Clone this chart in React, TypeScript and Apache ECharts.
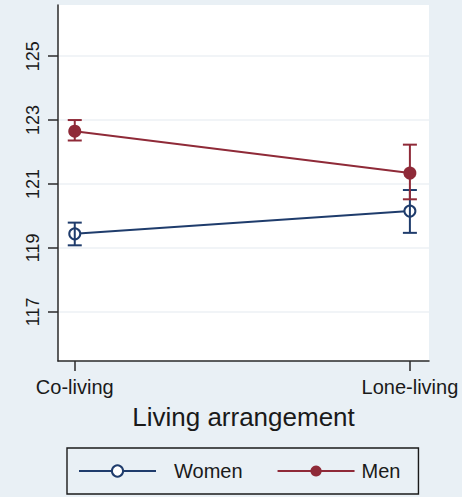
import React, { useEffect, useRef } from "react";
import * as echarts from "echarts";

// Living arrangement categories (positions 0 and 1 on the x axis)
const categories = ["Co-living", "Lone-living"];
const yTicks = [117, 119, 121, 123, 125];

// Predicted means with 95% confidence intervals
const womenMean = [119.44, 120.15];
const womenLow = [119.08, 119.47];
const womenHigh = [119.79, 120.81];

const menMean = [122.65, 121.34];
const menLow = [122.36, 120.52];
const menHigh = [123.0, 122.23];

const WOMEN_COLOR = "#1f3c6c";
const MEN_COLOR = "#8f2a38";
const INK = "#1a1a1a";
const FONT = "Liberation Sans, Arial, sans-serif";

function errorBarSeries(name: string, color: string, low: number[], high: number[]) {
  return {
    name: name + " CI",
    type: "custom",
    z: 4,
    data: low.map((l, i) => [i, l, high[i]]),
    renderItem: (params: any, api: any) => {
      const x = api.value(0);
      const lo = api.coord([x, api.value(1)]);
      const hi = api.coord([x, api.value(2)]);
      const half = 7;
      const style = { stroke: color, lineWidth: 2, fill: "none" };
      return {
        type: "group",
        children: [
          { type: "line", shape: { x1: lo[0], y1: lo[1], x2: hi[0], y2: hi[1] }, style },
          { type: "line", shape: { x1: lo[0] - half, y1: lo[1], x2: lo[0] + half, y2: lo[1] }, style },
          { type: "line", shape: { x1: hi[0] - half, y1: hi[1], x2: hi[0] + half, y2: hi[1] }, style },
        ],
      };
    },
  };
}

export default function App() {
  const ref = useRef<HTMLDivElement>(null);

  useEffect(() => {
    if (!ref.current) return;
    const chart = echarts.init(ref.current, null, { renderer: "svg" });
    chart.setOption({
      animation: false,
      backgroundColor: "#e9f0f5",
      textStyle: { fontFamily: FONT },
      grid: {
        left: 58,
        right: 33,
        top: 5,
        bottom: 136,
        show: true,
        backgroundColor: "#ffffff",
        borderWidth: 0,
      },
      xAxis: {
        type: "value",
        min: -0.05,
        max: 1.057,
        name: "Living arrangement",
        nameLocation: "middle",
        nameGap: 43,
        nameTextStyle: { fontSize: 26, color: INK, fontFamily: FONT, verticalAlign: "top" },
        axisLine: { show: true, onZero: false, lineStyle: { color: "#2a2a2a", width: 1.5 } },
        axisTick: { show: true, length: 10, customValues: [0, 1], lineStyle: { color: "#2a2a2a", width: 1.5 } },
        axisLabel: {
          customValues: [0, 1],
          formatter: (v: number) => categories[Math.round(v)],
          fontSize: 20,
          color: INK,
          margin: 16,
          fontFamily: FONT,
        },
        splitLine: { show: false },
      },
      yAxis: {
        type: "value",
        min: 115.46,
        max: 126.6,
        axisLine: { show: true, onZero: false, lineStyle: { color: "#2a2a2a", width: 1.5 } },
        axisTick: { show: true, length: 10, customValues: yTicks, lineStyle: { color: "#2a2a2a", width: 1.5 } },
        axisLabel: {
          customValues: yTicks,
          rotate: 90,
          fontSize: 18,
          color: INK,
          margin: 16,
          fontFamily: FONT,
        },
        splitLine: { show: true, lineStyle: { color: "#edf1f4", width: 1.5 } },
      },
      legend: {
        data: [
          { name: "Women", textStyle: { padding: [0, 0, 0, 13] } },
          { name: "Men", textStyle: { padding: [0, 0, 0, 2] } },
        ],
        left: 67,
        bottom: 3,
        orient: "horizontal",
        itemWidth: 77,
        itemHeight: 14,
        itemGap: 34,
        borderColor: INK,
        borderWidth: 1.4,
        padding: [13, 18, 13, 11],
        textStyle: { fontSize: 20, color: INK, fontFamily: FONT },
      },
      series: [
        {
          name: "Women",
          type: "line",
          data: womenMean.map((v, i) => [i, v]),
          symbol: "emptyCircle",
          symbolSize: 11,
          color: WOMEN_COLOR,
          lineStyle: { color: WOMEN_COLOR, width: 2 },
          itemStyle: { color: WOMEN_COLOR, borderWidth: 2 },
        },
        {
          name: "Men",
          type: "line",
          data: menMean.map((v, i) => [i, v]),
          symbol: "circle",
          symbolSize: 13,
          color: MEN_COLOR,
          lineStyle: { color: MEN_COLOR, width: 2 },
          itemStyle: { color: MEN_COLOR },
        },
        errorBarSeries("Women", WOMEN_COLOR, womenLow, womenHigh),
        errorBarSeries("Men", MEN_COLOR, menLow, menHigh),
      ],
    });
    return () => chart.dispose();
  }, []);

  return <div ref={ref} style={{ width: 462, height: 497, position: "absolute", left: 0, top: 0 }} />;
}
